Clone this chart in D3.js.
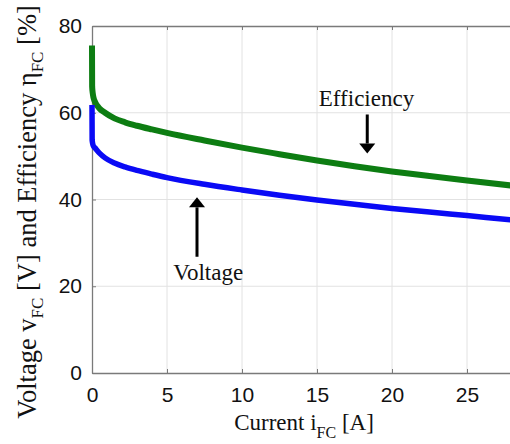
<!DOCTYPE html>
<html>
<head>
<meta charset="utf-8">
<script src="https://cdn.jsdelivr.net/npm/d3@7"></script>
<style>
	body { margin: 0; background: #fff; }
	svg { display: block; }
	.tick_label { font-family: "Liberation Sans", Arial, sans-serif; font-size: 21px; fill: #111; }
	.axis_title { font-family: "Liberation Serif", "Times New Roman", serif; fill: #111; }
</style>
</head>
<body>
<svg width="510" height="444"></svg>
<script>

	// values
	var current = [0, 0.01, 0.05, 0.1, 0.2, 0.5, 0.87, 1.5, 2.2, 3, 4, 5, 7.5, 10, 12.5, 15, 17.5, 20, 22.5, 25, 28, 30];
	var efficiency = [75.5, 66, 64.5, 63.5, 62.5, 61, 60, 58.7, 57.8, 57.0, 56.15, 55.35, 53.6, 51.95, 50.45, 49.0, 47.65, 46.45, 45.4, 44.4, 43.2, 42.4];
	var voltage = [61.8, 53.7, 52.8, 52.3, 51.9, 50.7, 49.6, 48.4, 47.5, 46.7, 45.85, 45.05, 43.5, 42.2, 41.0, 39.9, 38.9, 37.95, 37.1, 36.3, 35.3, 34.7];

	var x_ticks = [0, 5, 10, 15, 20, 25];
	var y_ticks = [0, 20, 40, 60, 80];

	// annotation: [label, label x, label y, arrow x, arrow tail y, arrow tip y]
	var eff_note = ["Efficiency", 18.3, 61.6, 18.35, 59.6, 50.6];
	var volt_note = ["Voltage", 7.75, 21.4, 7.0, 26.8, 40.5];

	var chart = (function(){

		var svg = d3.select("svg");
		var margin = { left: 92, top: 26 };

		var x = d3.scaleLinear().domain([0, 30]).range([margin.left, margin.left + 450]);
		var y = d3.scaleLinear().domain([0, 80]).range([373, 26]);

		function draw_grid(){
			var g = svg.append('g').attr('class','grid');
			g.selectAll('line.v').data(x_ticks.slice(1)).enter().append('line')
				.attr('x1', function(d){ return x(d); }).attr('x2', function(d){ return x(d); })
				.attr('y1', y(0)).attr('y2', y(80))
				.attr('stroke', '#e2e2e2').attr('stroke-width', 1);
			g.selectAll('line.h').data(y_ticks.slice(1, -1)).enter().append('line')
				.attr('y1', function(d){ return y(d); }).attr('y2', function(d){ return y(d); })
				.attr('x1', x(0)).attr('x2', x(30))
				.attr('stroke', '#e2e2e2').attr('stroke-width', 1);
		}

		function draw_axes(){
			var bottom = svg.append('g').attr('transform', 'translate(0,' + y(0) + ')')
				.call(d3.axisBottom(x).tickValues(x_ticks).tickSizeInner(-4).tickSizeOuter(0).tickPadding(14));
			var top = svg.append('g').attr('transform', 'translate(0,' + y(80) + ')')
				.call(d3.axisTop(x).tickValues(x_ticks).tickSizeInner(-4).tickSizeOuter(0).tickFormat(''));
			var left = svg.append('g').attr('transform', 'translate(' + x(0) + ',0)')
				.call(d3.axisLeft(y).tickValues(y_ticks).tickSizeInner(-4).tickSizeOuter(0).tickPadding(10));

			[bottom, top, left].forEach(function(a){
				a.select('.domain').attr('stroke', '#7a7a7a').attr('stroke-width', 1.3);
				a.selectAll('.tick line').attr('stroke', '#7a7a7a');
				a.selectAll('.tick text').attr('class', 'tick_label').attr('font-size', null).attr('font-family', null);
			});
			bottom.selectAll('.tick text').attr('dy', '0.71em');
		}

		function draw_lines(){
			var line_i = d3.line()
				.x(function(d, i){ return x(current[i]); })
				.y(function(d){ return y(d); })
				.curve(d3.curveMonotoneX);

			svg.append('path').datum(efficiency)
				.attr('d', line_i)
				.attr('fill', 'none').attr('stroke', '#0d7d12').attr('stroke-width', 6);

			svg.append('path').datum(voltage)
				.attr('d', line_i)
				.attr('fill', 'none').attr('stroke', '#0a0af5').attr('stroke-width', 5.5);
		}

		function draw_note(note, pointing_down){
			var ax = x(note[3]);
			var tail = y(note[4]), tip = y(note[5]);
			var head = pointing_down ? -10 : 10;

			svg.append('text').attr('class', 'axis_title')
				.attr('x', x(note[1])).attr('y', y(note[2]))
				.attr('text-anchor', 'middle').attr('font-size', 23)
				.text(note[0]);

			svg.append('line')
				.attr('x1', ax).attr('x2', ax)
				.attr('y1', tail).attr('y2', tip + head)
				.attr('stroke', '#000').attr('stroke-width', 3);

			svg.append('path')
				.attr('d', 'M' + (ax - 8) + ',' + (tip + head) + 'L' + (ax + 8) + ',' + (tip + head) + 'L' + ax + ',' + tip + 'Z')
				.attr('fill', '#000');
		}

		function draw_titles(){
			var xt = svg.append('text').attr('class', 'axis_title')
				.attr('x', 304).attr('y', 430)
				.attr('text-anchor', 'middle').attr('font-size', 23);
			xt.append('tspan').text('Current i');
			xt.append('tspan').attr('dy', 8).attr('font-size', 16).text('FC');
			xt.append('tspan').attr('dy', -8).text(' [A]');

			var yt = svg.append('text').attr('class', 'axis_title')
				.attr('transform', 'translate(36,212) rotate(-90)')
				.attr('text-anchor', 'middle').attr('font-size', 26.5);
			yt.append('tspan').text('Voltage v');
			yt.append('tspan').attr('dy', 7).attr('font-size', 17).text('FC');
			yt.append('tspan').attr('dy', -7).text(' [V] and Efficiency \u03b7');
			yt.append('tspan').attr('dy', 7).attr('font-size', 17).text('FC');
			yt.append('tspan').attr('dy', -7).text(' [%]');
		}

		draw_grid();
		draw_axes();
		draw_lines();
		draw_note(eff_note, true);
		draw_note(volt_note, false);
		draw_titles();

		return null;
	})();

</script>
</body>
</html>
